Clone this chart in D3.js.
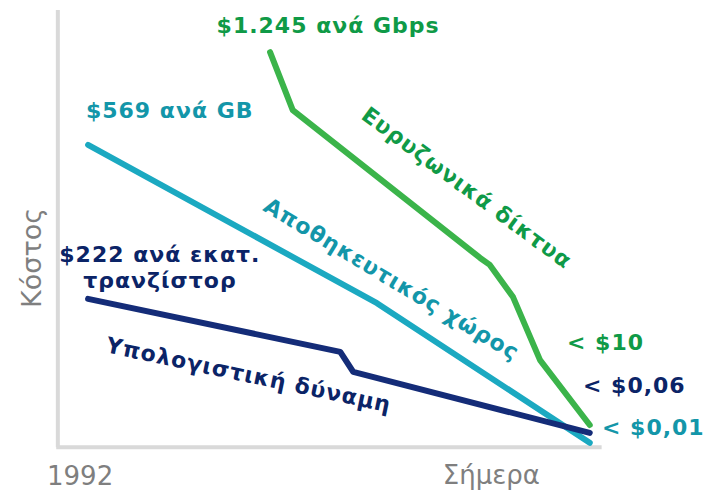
<!DOCTYPE html>
<html>
<head>
<meta charset="utf-8">
<script src="https://cdn.jsdelivr.net/npm/d3@7"></script>
<style>
  html, body { margin: 0; padding: 0; background: #fff; }
  svg { display: block; font-family: "DejaVu Sans", Verdana, sans-serif; }
</style>
</head>
<body>
<svg id="chart" width="705" height="496"></svg>
<script>
// time index 0 = 1992, 100 = today; cost on a relative 0..100 scale
const broadbandPts = [[38.9, 90.3], [43.1, 77.0], [77.8, 43.0], [79.6, 41.4], [83.9, 34.0], [88.9, 19.5], [98.1, 4.6]];
const storagePts = [[5.2, 69.0], [58.7, 32.6], [98.1, 0.5]];
const computePts = [[5.2, 33.6], [51.9, 21.4], [54.3, 16.8], [98.1, 2.8]];

const seriesNames = ['Ευρυζωνικά δίκτυα', 'Αποθηκευτικός χώρος', 'Υπολογιστική δύναμη'];
const startLabels = ['$1.245 ανά Gbps', '$569 ανά GB', ['$222 ανά εκατ.', 'τρανζίστορ']];
const endLabels = ['< $10', '< $0,01', '< $0,06'];
const xTickLabels = ['1992', 'Σήμερα'];
const yTitle = 'Κόστος';

const lineColors = ['#3bb44a', '#1ba9c1', '#142c78'];
const textColors = ['#0f9a47', '#1396a9', '#0b2467'];

const svg = d3.select('#chart');

const x = d3.scaleLinear().domain([0, 100]).range([60, 600]);
const y = d3.scaleLinear().domain([0, 100]).range([445, 10]);

// axes: plain light grey lines, no ticks
const axisColor = '#d9d9d9';
svg.append('line')
  .attr('x1', x(-0.4)).attr('x2', x(-0.4))
  .attr('y1', y(100)).attr('y2', y(-0.5))
  .attr('stroke', axisColor).attr('stroke-width', 4);
svg.append('line')
  .attr('x1', x(-0.7)).attr('x2', x(100.3))
  .attr('y1', y(-0.5)).attr('y2', y(-0.5))
  .attr('stroke', axisColor).attr('stroke-width', 4);

svg.append('text')
  .attr('transform', `translate(41,${y(43)}) rotate(-90)`)
  .attr('text-anchor', 'middle')
  .attr('font-size', 27)
  .attr('fill', '#7f7f7f')
  .text(yTitle);

svg.append('text')
  .attr('x', x(-2.4)).attr('y', 485)
  .attr('font-size', 26).attr('fill', '#7f7f7f')
  .text(xTickLabels[0]);
svg.append('text')
  .attr('x', x(70.9)).attr('y', 484)
  .attr('font-size', 26).attr('fill', '#7f7f7f')
  .text(xTickLabels[1]);

const line = d3.line().x(d => x(d[0])).y(d => y(d[1]));
const allSeries = [broadbandPts, storagePts, computePts];

// storage first so the others sit on top near the end point
[1, 0, 2].forEach(i => {
  svg.append('path')
    .attr('d', line(allSeries[i]))
    .attr('fill', 'none')
    .attr('stroke', lineColors[i])
    .attr('stroke-width', 6)
    .attr('stroke-linejoin', 'round')
    .attr('stroke-linecap', 'round');
});

const boldText = (sel) => sel
  .attr('font-size', 22)
  .attr('font-weight', 'bold')
  .attr('letter-spacing', 1);

// starting values
svg.append('text')
  .attr('x', x(29)).attr('y', 33)
  .call(boldText)
  .attr('fill', textColors[0])
  .text(startLabels[0]);
svg.append('text')
  .attr('x', x(4.8)).attr('y', 118)
  .call(boldText)
  .attr('fill', textColors[1])
  .text(startLabels[1]);
const compStart = svg.append('text')
  .attr('text-anchor', 'middle')
  .call(boldText)
  .attr('fill', textColors[2]);
startLabels[2].forEach((s, k) => {
  compStart.append('tspan')
    .attr('x', x(18.5)).attr('y', 262 + k * 26)
    .text(s);
});

// series names along the lines
const nameSpecs = [
  { px: 360, py: 118, angle: 36.5 },
  { px: 262, py: 210, angle: 31 },
  { px: 105, py: 352, angle: 12 }
];
nameSpecs.forEach((s, i) => {
  svg.append('text')
    .attr('transform', `translate(${s.px},${s.py}) rotate(${s.angle})`)
    .call(boldText)
    .attr('fill', textColors[i])
    .text(seriesNames[i]);
});

// end values
const endY = [350, 435, 393];
const endX = [567, 602, 583];
[0, 2, 1].forEach(i => {
  svg.append('text')
    .attr('x', endX[i]).attr('y', endY[i])
    .call(boldText)
    .attr('fill', textColors[i])
    .text(endLabels[i]);
});
</script>
</body>
</html>
